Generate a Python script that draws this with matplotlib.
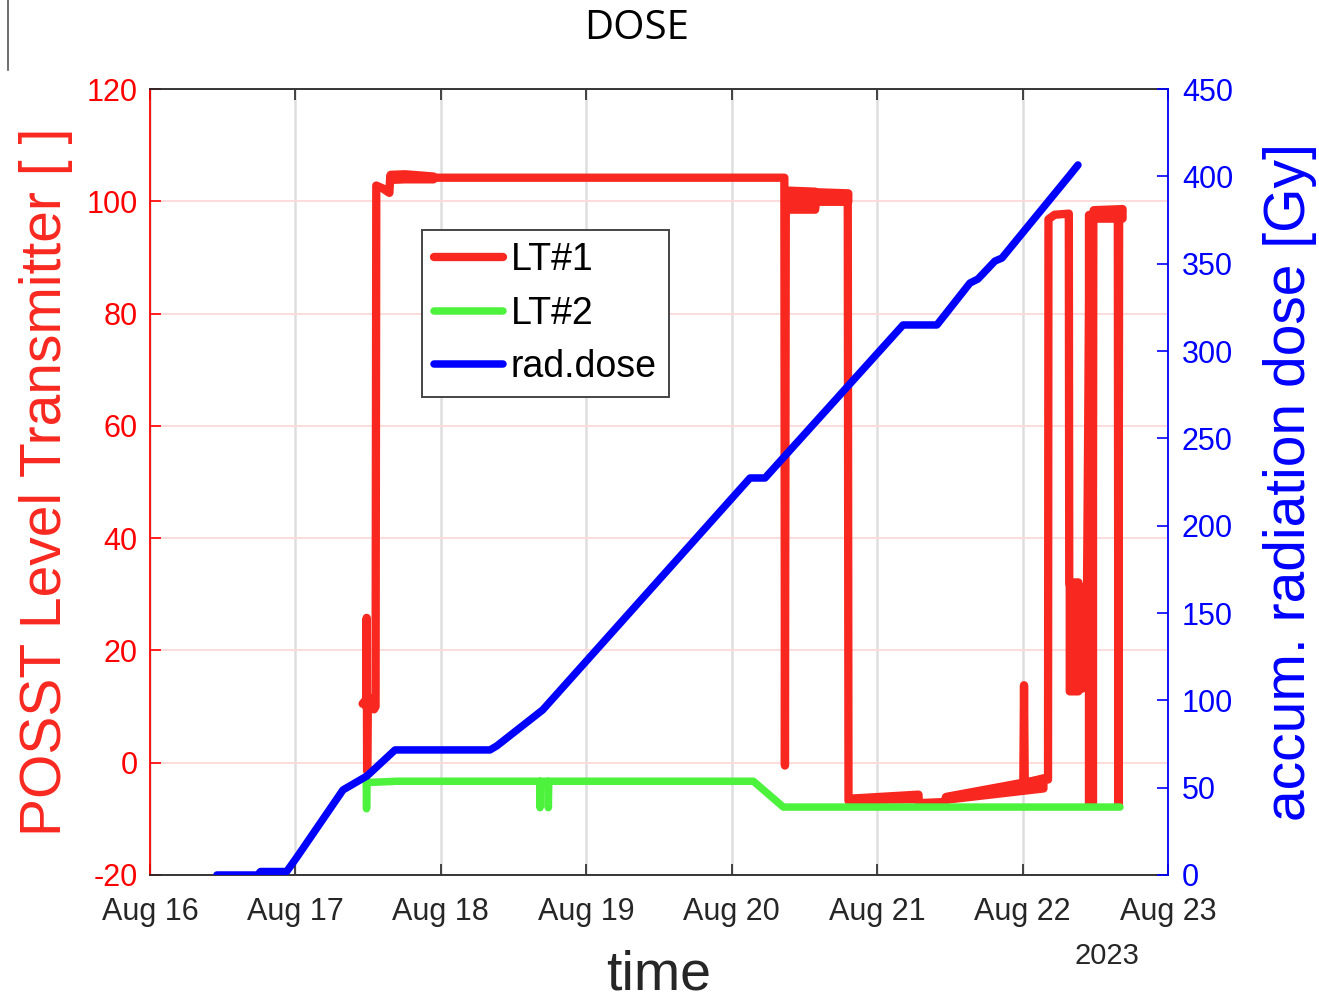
import matplotlib
matplotlib.use('Agg')
import matplotlib.pyplot as plt
import matplotlib.dates as mdates
from matplotlib.lines import Line2D
from datetime import datetime
import numpy as np

plt.rcParams['font.family'] = ['Liberation Sans', 'DejaVu Sans']
plt.rcParams['axes.unicode_minus'] = False

# ---------------- data (time = days since 2023-08-16 00:00) ----------------
t0 = datetime(2023, 8, 16)

# LT#1 level transmitter [ ] (main trace)
lt1_t = [1.462, 1.478, 1.486, 1.490, 1.493, 1.497, 1.515, 1.540, 1.551, 1.556,
         1.600, 1.646, 1.652, 1.950, 4.362, 4.366, 4.372, 4.575, 4.798, 4.803,
         4.820, 5.281, 5.285, 5.467, 5.472, 6.005, 6.010, 6.015, 6.140, 6.175,
         6.178, 6.220, 6.318, 6.321, 6.440, 6.462, 6.468, 6.475, 6.480, 6.486,
         6.655, 6.659, 6.664, 6.684]
lt1_v = [10.5, 11.0, 10.0, 25.8, -1.5, 10.0, 11.5, 9.5, 10.0, 102.8,
         102.3, 101.5, 104.5, 104.2, 104.2, -0.5, 100.5, 100.3, 100.8, -6.8,
         -6.5, -5.9, -7.2, -7.0, -6.2, -3.7, 13.8, -3.7, -2.8, -3.0,
         96.8, 97.6, 97.8, 32.0, 20.0, 97.5, -7.5, 97.5, -7.5, 98.0,
         98.3, -7.5, 98.0, 98.3]

# LT#1 noisy segments: envelope (min / max)
lt1_bandA_t = [1.652, 1.750, 1.850, 1.946]
lt1_bandA_lo = [103.9, 104.0, 104.0, 104.0]
lt1_bandA_hi = [104.8, 104.9, 104.7, 104.5]
lt1_bandB_t = [4.372, 4.570, 4.576, 4.798]
lt1_bandB_lo = [98.6, 98.6, 100.0, 100.0]
lt1_bandB_hi = [102.0, 101.8, 101.7, 101.5]
lt1_bandC_t = [4.820, 5.281]
lt1_bandC_lo = [-6.6, -6.4]
lt1_bandC_hi = [-6.3, -5.6]
lt1_bandD_t = [5.472, 6.140]
lt1_bandD_lo = [-6.5, -4.5]
lt1_bandD_hi = [-6.0, -2.8]
lt1_bandE_t = [6.321, 6.380, 6.384, 6.440]
lt1_bandE_lo = [12.8, 12.8, 13.2, 13.5]
lt1_bandE_hi = [32.2, 32.2, 31.2, 31.4]
lt1_bandF_t = [6.460, 6.486]
lt1_bandF_lo = [-7.2, -7.2]
lt1_bandF_hi = [97.5, 97.5]
lt1_bandG_t = [6.486, 6.684]
lt1_bandG_lo = [97.0, 97.0]
lt1_bandG_hi = [98.5, 98.7]

# LT#2 level transmitter [ ]
lt2_t = [1.487, 1.489, 1.492, 1.520, 1.700, 2.680, 2.682, 2.685, 2.736, 2.739,
         2.742, 4.149, 4.355, 6.670]
lt2_v = [-3.6, -8.2, -3.4, -3.5, -3.3, -3.3, -8.0, -3.3, -3.3, -8.0,
         -3.3, -3.3, -7.9, -7.9]

# accumulated radiation dose [Gy]
dose_t = [0.460, 0.740, 0.760, 0.940, 1.011, 1.327, 1.492, 1.685, 2.338, 2.386,
          2.700, 4.126, 4.229, 5.178, 5.411, 5.638, 5.693, 5.810, 5.858, 6.326,
          6.381]
dose_v = [0.0, 0.0, 2.0, 2.0, 10.3, 48.7, 56.7, 71.6, 71.6, 74.0,
          94.5, 227.3, 227.3, 314.9, 314.9, 338.9, 341.2, 351.5, 353.2, 400.8,
          406.5]

left_ticks = [-20, 0, 20, 40, 60, 80, 100, 120]
right_ticks = [0, 50, 100, 150, 200, 250, 300, 350, 400, 450]
legend_labels = ['LT#1', 'LT#2', 'rad.dose']

# ---------------- styling ----------------
RED = '#f82820'
GREEN = '#4df23c'
BLUE = '#0000ff'
AXRED = '#ff0000'
DARK = '#262626'

fig = plt.figure(figsize=(13.19, 10.01), dpi=100)
ax = fig.add_axes([150/1319, 1-875/1001, 1018/1319, 786/1001])
base = mdates.date2num(t0)

def tx(t):
    return base + np.asarray(t, dtype=float)

lw = 6.0
bands = [(lt1_bandA_t, lt1_bandA_lo, lt1_bandA_hi),
         (lt1_bandB_t, lt1_bandB_lo, lt1_bandB_hi),
         (lt1_bandC_t, lt1_bandC_lo, lt1_bandC_hi),
         (lt1_bandD_t, lt1_bandD_lo, lt1_bandD_hi),
         (lt1_bandE_t, lt1_bandE_lo, lt1_bandE_hi),
         (lt1_bandF_t, lt1_bandF_lo, lt1_bandF_hi),
         (lt1_bandG_t, lt1_bandG_lo, lt1_bandG_hi)]
for bt, blo, bhi in bands:
    ax.fill_between(tx(bt), blo, bhi, facecolor=RED, edgecolor=RED,
                    linewidth=lw, zorder=3)

l1, = ax.plot(tx(lt1_t), lt1_v, color=RED, lw=lw, solid_joinstyle='round',
              solid_capstyle='round', zorder=3)
l2, = ax.plot(tx(lt2_t), lt2_v, color=GREEN, lw=5.4, solid_joinstyle='round',
              solid_capstyle='round', zorder=4)

ax.set_xlim(base, base + 7)
ax.set_ylim(-20, 120)
ax.set_yticks(left_ticks)
ax.xaxis.set_major_locator(mdates.DayLocator())
ax.xaxis.set_major_formatter(mdates.DateFormatter('%b %d'))

ax.set_axisbelow(True)
ax.xaxis.grid(True, color='#dedede', lw=1.8)
ax.yaxis.grid(True, color='#ffd9d9', lw=1.3)

ax.tick_params(axis='x', direction='in', top=True, length=8, width=1.2,
               color=DARK, labelcolor=DARK, labelsize=22, pad=16)
ax.tick_params(axis='y', direction='in', length=8, width=1.2, color=AXRED,
               labelcolor=AXRED, labelsize=22, pad=9)
for s in ['top', 'bottom']:
    ax.spines[s].set_color(DARK)
    ax.spines[s].set_linewidth(1.3)
ax.spines['left'].set_color(AXRED)
ax.spines['left'].set_linewidth(1.3)
ax.spines['right'].set_visible(False)

ax2 = ax.twinx()
l3, = ax2.plot(tx(dose_t), dose_v, color=BLUE, lw=5.4, solid_joinstyle='round',
               solid_capstyle='round', zorder=5)
ax2.set_ylim(0, 450)
ax2.set_yticks(right_ticks)
ax2.tick_params(axis='y', direction='in', length=8, width=1.2, color=BLUE,
                labelcolor=BLUE, labelsize=22, pad=10)
for s in ['top', 'bottom', 'left']:
    ax2.spines[s].set_visible(False)
ax2.spines['right'].set_color(BLUE)
ax2.spines['right'].set_linewidth(1.3)

# labels
ax.text(-0.1017, 0.5, 'POSST Level Transmitter [ ]', transform=ax.transAxes,
        rotation=90, rotation_mode='anchor', ha='center', va='center',
        fontsize=41, color=RED)
ax.text(1.1198, 0.5, 'accum. radiation dose [Gy]', transform=ax.transAxes,
        rotation=90, rotation_mode='anchor', ha='center', va='center',
        fontsize=41, color=BLUE)
ax.text(0.5, -0.1463, 'time', transform=ax.transAxes, ha='center',
        va='baseline', fontsize=40, color=DARK)
ax.text(0.940, -0.113, '2023', transform=ax.transAxes, ha='center',
        va='baseline', fontsize=21, color=DARK)
fig.text(637/1319, 1-39/1001, 'DOSE', ha='center', va='baseline',
         fontsize=29, color='black', family=['Open Sans', 'DejaVu Sans'])

leg = ax2.legend([l1, l2, l3], legend_labels, loc='upper left',
                 bbox_to_anchor=((422-150)/1018, (875-230)/786),
                 borderaxespad=0, fontsize=27, handlelength=1.85,
                 handletextpad=0.2, borderpad=0.32, labelspacing=0.47,
                 fancybox=False, framealpha=1, edgecolor='#444444')
leg.get_frame().set_linewidth(1.4)
leg.set_zorder(10)

fig.add_artist(Line2D([8/1319, 8/1319], [1, 1-70/1001], color='#555555', lw=1.2))

fig.savefig('out.png', dpi=100)
